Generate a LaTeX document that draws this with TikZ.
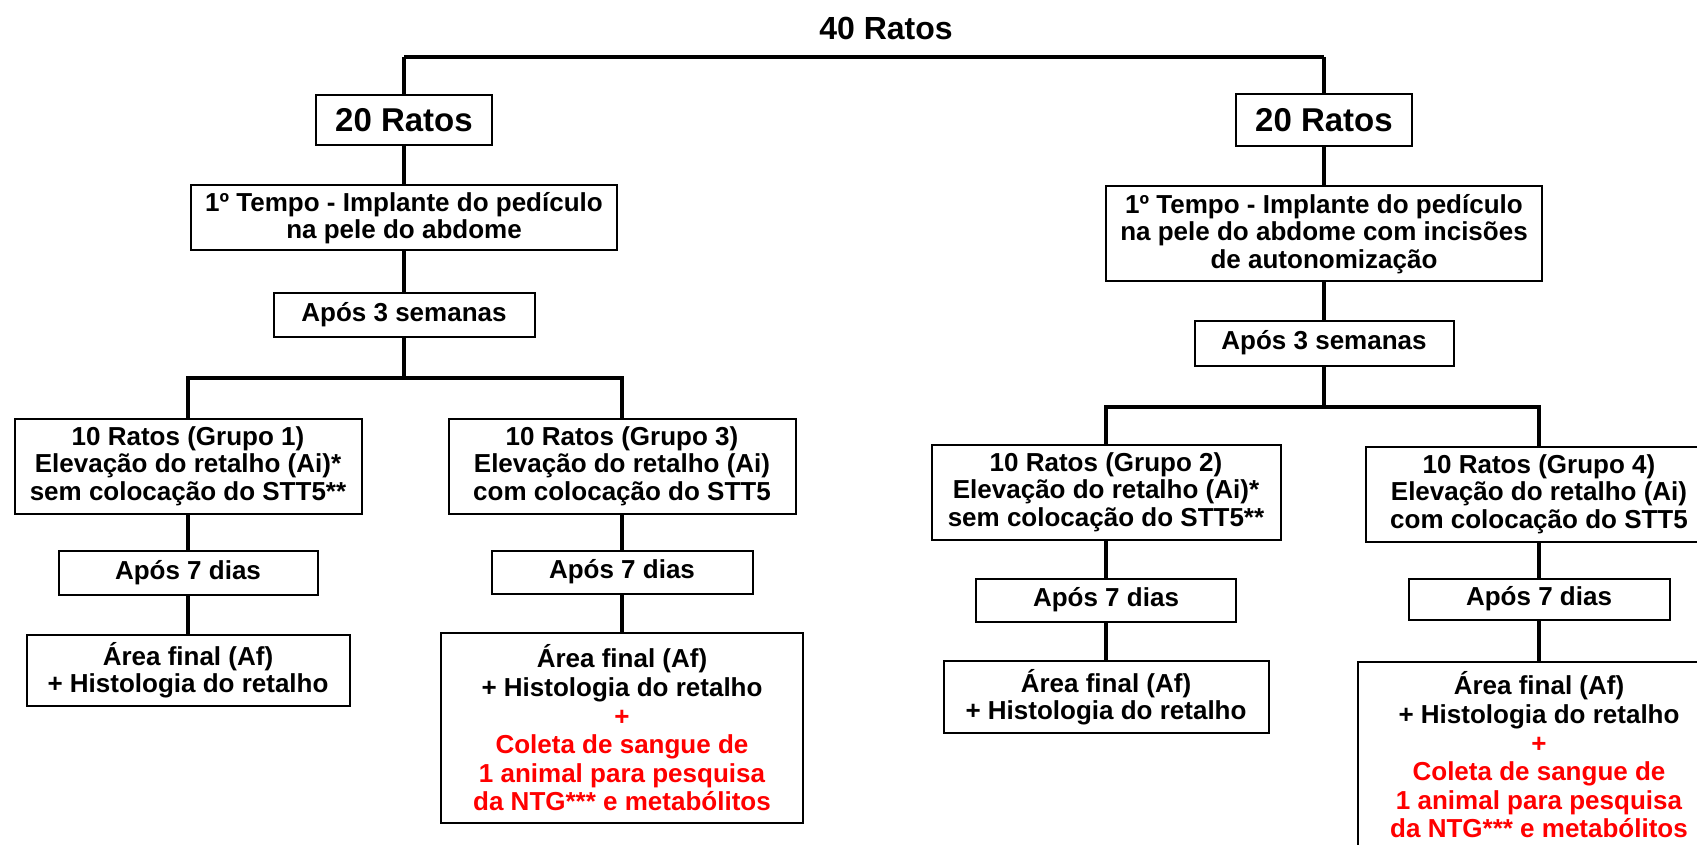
\documentclass[tikz,border=0pt]{standalone}
\usepackage{fontspec}
\setmainfont{Liberation Sans}

\tikzset{every node/.style={font=\bfseries\fontsize{13}{13.75}\selectfont}}
\tikzset{box/.style 2 args={draw, line width=1pt, fill=white, inner sep=0pt, align=center,
    minimum width=#1*0.5pt, minimum height=#2*0.5pt}}
\tikzset{tall/.style={font=\bfseries\fontsize{13}{14.3}\selectfont}}
\tikzset{link/.style={line width=1.6pt}}
\tikzset{bar/.style={line width=2.4pt}}
\newcommand{\verm}[1]{\textcolor{red}{#1}}

\begin{document}
\begin{tikzpicture}[x=0.5pt, y=-0.5pt]
	\clip (0,0) rectangle (1697,845);
	
	% Top
	\node[font=\bfseries\fontsize{16}{19}\selectfont] (rats40) at (886,28) {40 Ratos};
	\coordinate (topL) at (404,57);
	\coordinate (topR) at (1324,57);
	
	% Left branch
	\node[box={176}{50}, font=\bfseries\fontsize{16.5}{19}\selectfont] (ratsL) at (404,120) {20 Ratos};
	\node[box={426}{65}] (tempoL) at (404,218) {1º Tempo - Implante do pedículo\\na pele do abdome};
	\node[box={261}{43}] (semL) at (404,315) {Após 3 semanas};
	\coordinate (splitL) at (404,378);
	
	\node[box={347}{95}] (g1) at (188,466) {10 Ratos (Grupo 1)\\Elevação do retalho (Ai)*\\sem colocação do STT5**};
	\node[box={259}{44}] (g1dias) at (188,573) {Após 7 dias};
	\node[box={323}{71}] (g1fim) at (188,670) {Área final (Af)\\+ Histologia do retalho};
	
	\node[box={347}{95}] (g3) at (622,466) {10 Ratos (Grupo 3)\\Elevação do retalho (Ai)\\com colocação do STT5};
	\node[box={261}{43}] (g3dias) at (622,572) {Após 7 dias};
	\node[box={362}{190}, tall] (g3fim) at (622,728) {Área final (Af)\\+ Histologia do retalho\\\verm{+}\\\verm{Coleta de sangue de}\\\verm{1 animal para pesquisa}\\\verm{da NTG*** e metabólitos}};
	
	% Right branch
	\node[box={176}{52}, font=\bfseries\fontsize{16.5}{19}\selectfont] (ratsR) at (1324,120) {20 Ratos};
	\node[box={436}{95}] (tempoR) at (1324,234) {1º Tempo - Implante do pedículo\\na pele do abdome com incisões\\de autonomização};
	\node[box={259}{45}] (semR) at (1324,343) {Após 3 semanas};
	\coordinate (splitR) at (1324,407);
	
	\node[box={349}{95}] (g2) at (1106,492) {10 Ratos (Grupo 2)\\Elevação do retalho (Ai)*\\sem colocação do STT5**};
	\node[box={260}{43}] (g2dias) at (1106,600) {Após 7 dias};
	\node[box={325}{72}] (g2fim) at (1106,697) {Área final (Af)\\+ Histologia do retalho};
	
	\node[box={346}{95}] (g4) at (1539,494) {10 Ratos (Grupo 4)\\Elevação do retalho (Ai)\\com colocação do STT5};
	\node[box={261}{41}] (g4dias) at (1539,599) {Após 7 dias};
	\node[box={362}{187}, tall] (g4fim) at (1539,755) {Área final (Af)\\+ Histologia do retalho\\\verm{+}\\\verm{Coleta de sangue de}\\\verm{1 animal para pesquisa}\\\verm{da NTG*** e metabólitos}};
	
	% Connectors
	\draw[bar] (topL) -- (topR);
	\draw[link] (topL) -- (ratsL);
	\draw[link] (topR) -- (ratsR);
	
	\draw[link] (ratsL) -- (tempoL);
	\draw[link] (tempoL) -- (semL);
	\draw[link] (semL) -- (splitL);
	\draw[link] (g1.north) |- (splitL) -| (g3.north);
	\draw[link] (g1) -- (g1dias);
	\draw[link] (g1dias) -- (g1fim);
	\draw[link] (g3) -- (g3dias);
	\draw[link] (g3dias) -- (g3fim);
	
	\draw[link] (ratsR) -- (tempoR);
	\draw[link] (tempoR) -- (semR);
	\draw[link] (semR) -- (splitR);
	\draw[link] (g2.north) |- (splitR) -| (g4.north);
	\draw[link] (g2) -- (g2dias);
	\draw[link] (g2dias) -- (g2fim);
	\draw[link] (g4) -- (g4dias);
	\draw[link] (g4dias) -- (g4fim);
\end{tikzpicture}
\end{document}
